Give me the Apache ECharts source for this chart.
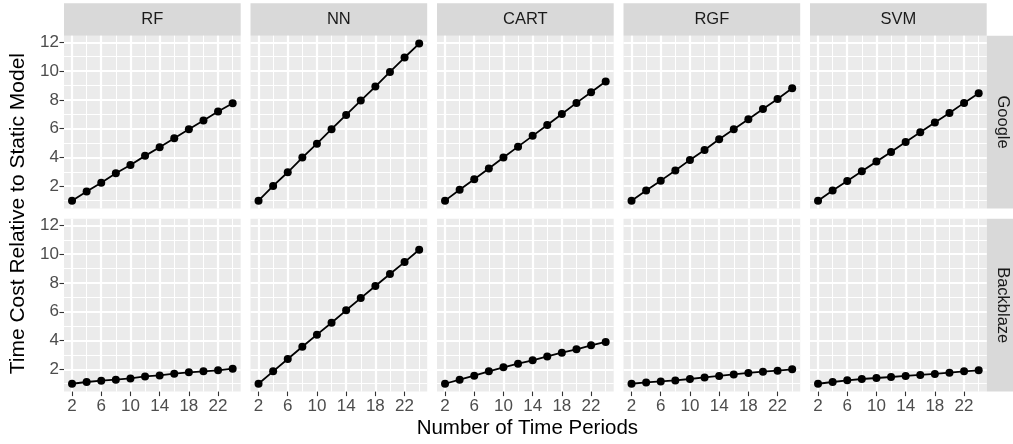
<!DOCTYPE html>
<html>
<head>
<meta charset="utf-8">
<script src="https://cdn.jsdelivr.net/npm/echarts@6/dist/echarts.min.js"></script>
<style>
  html, body { margin: 0; padding: 0; background: #ffffff; }
  #chart { width: 1013px; height: 444px; }
</style>
</head>
<body>
<div id="chart"></div>
<script>
// Number of time periods on the x axis
const periods = [2, 4, 6, 8, 10, 12, 14, 16, 18, 20, 22, 24];

// Facet labels
const models = ['RF', 'NN', 'CART', 'RGF', 'SVM'];
const datasets = ['Google', 'Backblaze'];

// Time cost relative to the static model, Google dataset
const googleRF   = [1.00, 1.63, 2.25, 2.90, 3.48, 4.11, 4.71, 5.33, 5.96, 6.56, 7.19, 7.76];
const googleNN   = [1.00, 2.02, 2.97, 3.99, 4.96, 5.96, 6.95, 7.95, 8.92, 9.94, 10.94, 11.91];
const googleCART = [1.00, 1.75, 2.49, 3.23, 3.99, 4.75, 5.50, 6.26, 7.02, 7.79, 8.53, 9.27];
const googleRGF  = [1.00, 1.70, 2.39, 3.09, 3.83, 4.52, 5.26, 5.96, 6.65, 7.37, 8.06, 8.81];
const googleSVM  = [1.00, 1.70, 2.37, 3.04, 3.71, 4.38, 5.08, 5.75, 6.42, 7.09, 7.79, 8.46];

// Time cost relative to the static model, Backblaze dataset
const backblazeRF   = [1.00, 1.12, 1.21, 1.28, 1.37, 1.51, 1.58, 1.70, 1.79, 1.86, 1.93, 2.05];
const backblazeNN   = [1.00, 1.86, 2.72, 3.57, 4.41, 5.24, 6.10, 6.95, 7.79, 8.62, 9.45, 10.31];
const backblazeCART = [1.00, 1.28, 1.56, 1.86, 2.14, 2.39, 2.63, 2.90, 3.16, 3.39, 3.67, 3.90];
const backblazeRGF  = [1.00, 1.09, 1.16, 1.23, 1.33, 1.44, 1.54, 1.65, 1.75, 1.84, 1.91, 2.00];
const backblazeSVM  = [1.00, 1.12, 1.24, 1.33, 1.40, 1.47, 1.54, 1.61, 1.68, 1.77, 1.86, 1.93];

// Axis breaks
const xMajorTicks = [2, 6, 10, 14, 18, 22];
const xMinorTicks = [4, 8, 12, 16, 20, 24];
const yMajorTicks = [2, 4, 6, 8, 10, 12];
const yMinorTicks = [1, 3, 5, 7, 9, 11];

const xTitle = 'Number of Time Periods';
const yTitle = 'Time Cost Relative to Static Model';

const panelValues = [
  [googleRF, googleNN, googleCART, googleRGF, googleSVM],
  [backblazeRF, backblazeNN, backblazeCART, backblazeRGF, backblazeSVM]
];

// Shared scales with 5% expansion on each side
function expanded(lo, hi) {
  const pad = (hi - lo) * 0.05;
  return [lo - pad, hi + pad];
}
const allY = panelValues.flat(2);
const yRange = expanded(Math.min(...allY), Math.max(...allY));
const xRange = expanded(Math.min(...periods), Math.max(...periods));

// Layout
const FONT = "'Liberation Sans', Arial, Helvetica, sans-serif";
const panelLeft0 = 64, panelStep = 186.5, panelW = 176.7;
const rowTops = [35.7, 218.8], panelH = 172.8;
const stripSize = 32.4;
const tickFont = 17;

const grids = [], xAxes = [], yAxes = [], series = [], graphics = [];

datasets.forEach((ds, r) => {
  models.forEach((m, c) => {
    const k = r * models.length + c;
    const left = panelLeft0 + c * panelStep;
    const top = rowTops[r];
    grids.push({
      left: left, top: top, width: panelW, height: panelH,
      show: true, backgroundColor: '#EBEBEB', borderWidth: 0, containLabel: false
    });
    const bottomRow = r === datasets.length - 1;
    const firstCol = c === 0;
    // major x axis (carries the data)
    xAxes.push({
      type: 'value', gridIndex: k, min: xRange[0], max: xRange[1], position: 'bottom',
      axisLine: { show: false },
      axisTick: { show: bottomRow, customValues: xMajorTicks, length: 4.5,
                  lineStyle: { color: '#333333', width: 1.1 } },
      axisLabel: { show: bottomRow, customValues: xMajorTicks, color: '#4D4D4D',
                   fontSize: tickFont, fontFamily: FONT, margin: 6 },
      splitLine: { show: true, lineStyle: { color: '#FFFFFF', width: 2.2 } }
    });
    // minor x grid lines
    xAxes.push({
      type: 'value', gridIndex: k, min: xRange[0], max: xRange[1], position: 'top',
      axisLine: { show: false },
      axisTick: { show: false, customValues: xMinorTicks },
      axisLabel: { show: false, customValues: xMinorTicks },
      splitLine: { show: true, lineStyle: { color: '#FFFFFF', width: 1.1 } }
    });
    // major y axis
    yAxes.push({
      type: 'value', gridIndex: k, min: yRange[0], max: yRange[1], position: 'left',
      axisLine: { show: false },
      axisTick: { show: firstCol, customValues: yMajorTicks, length: 4.5,
                  lineStyle: { color: '#333333', width: 1.1 } },
      axisLabel: { show: firstCol, customValues: yMajorTicks, color: '#4D4D4D',
                   fontSize: tickFont, fontFamily: FONT, margin: 5 },
      splitLine: { show: true, lineStyle: { color: '#FFFFFF', width: 2.2 } }
    });
    // minor y grid lines
    yAxes.push({
      type: 'value', gridIndex: k, min: yRange[0], max: yRange[1], position: 'right',
      axisLine: { show: false },
      axisTick: { show: false, customValues: yMinorTicks },
      axisLabel: { show: false, customValues: yMinorTicks },
      splitLine: { show: true, lineStyle: { color: '#FFFFFF', width: 1.1 } }
    });
    series.push({
      type: 'line', name: ds + ' ' + m,
      xAxisIndex: 2 * k, yAxisIndex: 2 * k,
      data: periods.map((p, i) => [p, panelValues[r][c][i]]),
      symbol: 'circle', symbolSize: 8, showSymbol: true,
      itemStyle: { color: '#000000' },
      lineStyle: { color: '#000000', width: 1.8 },
      silent: true, z: 5
    });
  });
});

// Column strips
models.forEach((m, c) => {
  const left = panelLeft0 + c * panelStep;
  graphics.push({
    type: 'rect', shape: { x: left, y: rowTops[0] - stripSize, width: panelW, height: stripSize },
    style: { fill: '#D9D9D9' }, silent: true
  });
  graphics.push({
    type: 'text', x: left + panelW / 2, y: rowTops[0] - stripSize / 2,
    style: { text: m, fill: '#1A1A1A', fontSize: 16.5, fontFamily: FONT,
             align: 'center', verticalAlign: 'middle' }, silent: true
  });
});

// Row strips
const stripX = panelLeft0 + (models.length - 1) * panelStep + panelW;
datasets.forEach((ds, r) => {
  graphics.push({
    type: 'rect', shape: { x: stripX, y: rowTops[r], width: stripSize, height: panelH },
    style: { fill: '#D9D9D9' }, silent: true
  });
  graphics.push({
    type: 'text', x: stripX + stripSize / 2, y: rowTops[r] + panelH / 2, rotation: -Math.PI / 2,
    style: { text: ds, fill: '#1A1A1A', fontSize: 16.5, fontFamily: FONT,
             align: 'center', verticalAlign: 'middle' }, silent: true
  });
});

// Axis titles
graphics.push({
  type: 'text', x: (panelLeft0 + stripX) / 2 + 2, y: 428,
  style: { text: xTitle, fill: '#000000', fontSize: 20.5, fontFamily: FONT,
           align: 'center', verticalAlign: 'middle' }, silent: true
});
graphics.push({
  type: 'text', x: 18, y: (rowTops[0] + rowTops[1] + panelH) / 2, rotation: Math.PI / 2,
  style: { text: yTitle, fill: '#000000', fontSize: 21, fontFamily: FONT,
           align: 'center', verticalAlign: 'middle' }, silent: true
});

const chart = echarts.init(document.getElementById('chart'), null, { renderer: 'canvas' });
chart.setOption({
  animation: false,
  backgroundColor: '#FFFFFF',
  grid: grids,
  xAxis: xAxes,
  yAxis: yAxes,
  series: series,
  graphic: { elements: graphics }
});
</script>
</body>
</html>
